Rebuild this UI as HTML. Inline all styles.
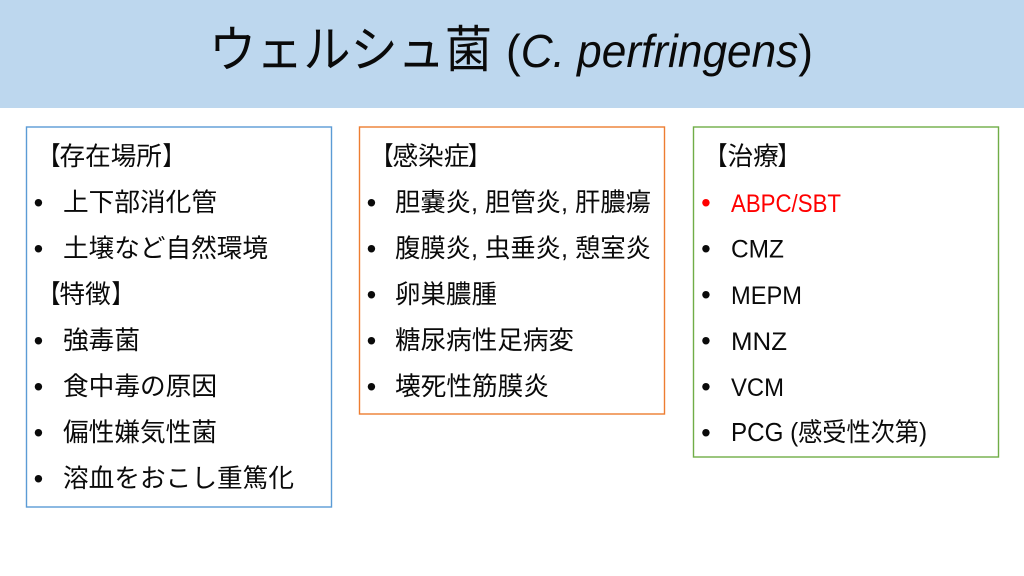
<!DOCTYPE html>
<html lang="ja"><head><meta charset="utf-8"><title>ウェルシュ菌</title>
<style>
html,body{margin:0;padding:0;background:#fff;width:1024px;height:576px;overflow:hidden}
svg{display:block}
text{font-family:"Liberation Sans","Noto Sans CJK JP",sans-serif;font-size:25.6px;fill:#0a0a0a;font-weight:400}
.j{font-family:"Noto Sans CJK JP",sans-serif}
.l{font-size:25px}
.b{font-family:"Liberation Sans",sans-serif;font-size:27.5px;transform:translate(-0.4px,0.8px)}
</style></head><body>
<svg width="1024" height="576" viewBox="0 0 1024 576" xmlns="http://www.w3.org/2000/svg">
<rect width="1024" height="576" fill="#fff"/>
<rect x="0" y="0" width="1024" height="108" fill="#bdd7ee"/>
<text class="j" x="209" y="67" style="font-size:50px" textLength="283" lengthAdjust="spacingAndGlyphs">ウェルシュ菌</text>
<text x="506" y="67" style="font-size:46px" textLength="307" lengthAdjust="spacingAndGlyphs">(<tspan font-style="italic">C. perfringens</tspan>)</text>
<rect x="26.5" y="127" width="305" height="380" fill="none" stroke="#5b9bd5" stroke-width="1.4"/>
<rect x="359.5" y="127" width="305" height="287" fill="none" stroke="#ed7d31" stroke-width="1.4"/>
<rect x="693.5" y="127" width="305" height="330" fill="none" stroke="#70ad47" stroke-width="1.4"/>
<g>
<text class="j" x="38.5" y="165" textLength="22" lengthAdjust="spacingAndGlyphs">【</text><text class="j" x="59.5" y="165" textLength="102.4" lengthAdjust="spacingAndGlyphs">存在場所</text><text class="j" x="162.5" y="165" textLength="22" lengthAdjust="spacingAndGlyphs">】</text>
<text class="b" x="34" y="211">•</text><text class="j" x="63" y="211" textLength="154" lengthAdjust="spacingAndGlyphs">上下部消化管</text>
<text class="b" x="34" y="257">•</text><text class="j" x="63" y="257" textLength="205" lengthAdjust="spacingAndGlyphs">土壌など自然環境</text>
<text class="j" x="38.5" y="303" textLength="22" lengthAdjust="spacingAndGlyphs">【</text><text class="j" x="59.5" y="303" textLength="51.2" lengthAdjust="spacingAndGlyphs">特徴</text><text class="j" x="111.5" y="303" textLength="22" lengthAdjust="spacingAndGlyphs">】</text>
<text class="b" x="34" y="349">•</text><text class="j" x="63" y="349" textLength="77" lengthAdjust="spacingAndGlyphs">強毒菌</text>
<text class="b" x="34" y="395">•</text><text class="j" x="63" y="395" textLength="154" lengthAdjust="spacingAndGlyphs">食中毒の原因</text>
<text class="b" x="34" y="441">•</text><text class="j" x="63" y="441" textLength="154" lengthAdjust="spacingAndGlyphs">偏性嫌気性菌</text>
<text class="b" x="34" y="487">•</text><text class="j" x="63" y="487" textLength="231" lengthAdjust="spacingAndGlyphs">溶血をおこし重篤化</text>
</g>
<g>
<text class="j" x="371.5" y="165" textLength="22" lengthAdjust="spacingAndGlyphs">【</text><text class="j" x="392.5" y="165" textLength="76.8" lengthAdjust="spacingAndGlyphs">感染症</text><text class="j" x="468" y="165" textLength="22" lengthAdjust="spacingAndGlyphs">】</text>
<text class="b" x="367" y="211">•</text><text x="395" y="211" textLength="256" lengthAdjust="spacingAndGlyphs">胆嚢炎, 胆管炎, 肝膿瘍</text>
<text class="b" x="367" y="257">•</text><text x="395" y="257" textLength="256" lengthAdjust="spacingAndGlyphs">腹膜炎, 虫垂炎, 憩室炎</text>
<text class="b" x="367" y="303">•</text><text class="j" x="395" y="303" textLength="102" lengthAdjust="spacingAndGlyphs">卵巣膿腫</text>
<text class="b" x="367" y="349">•</text><text class="j" x="395" y="349" textLength="179" lengthAdjust="spacingAndGlyphs">糖尿病性足病変</text>
<text class="b" x="367" y="395">•</text><text class="j" x="395" y="395" textLength="154" lengthAdjust="spacingAndGlyphs">壊死性筋膜炎</text>
</g>
<g>
<text class="j" x="705.5" y="165" textLength="22" lengthAdjust="spacingAndGlyphs">【</text><text class="j" x="727.5" y="165" textLength="51.2" lengthAdjust="spacingAndGlyphs">治療</text><text class="j" x="777.5" y="165" textLength="22" lengthAdjust="spacingAndGlyphs">】</text>
<text class="b" x="701.5" y="211" style="fill:#ff0000">•</text><text class="l" x="731" y="212" style="fill:#ff0000" textLength="110" lengthAdjust="spacingAndGlyphs">ABPC/SBT</text>
<text class="b" x="701.5" y="257">•</text><text class="l" x="731" y="257.6" textLength="53" lengthAdjust="spacingAndGlyphs">CMZ</text>
<text class="b" x="701.5" y="303">•</text><text class="l" x="731" y="304" textLength="71" lengthAdjust="spacingAndGlyphs">MEPM</text>
<text class="b" x="701.5" y="349">•</text><text class="l" x="731" y="350" textLength="56" lengthAdjust="spacingAndGlyphs">MNZ</text>
<text class="b" x="701.5" y="395">•</text><text class="l" x="731" y="395.8" textLength="53" lengthAdjust="spacingAndGlyphs">VCM</text>
<text class="b" x="701.5" y="441">•</text><text x="731" y="441" textLength="196" lengthAdjust="spacingAndGlyphs">PCG (感受性次第)</text>
</g>
</svg>
</body></html>
